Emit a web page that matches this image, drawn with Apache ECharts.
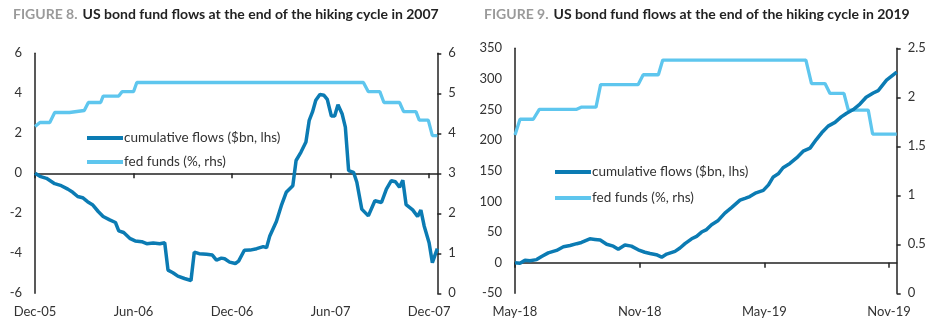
<!DOCTYPE html>
<html><head><meta charset="utf-8">
<script src="https://cdn.jsdelivr.net/npm/echarts@6/dist/echarts.min.js"></script>
<style>html,body{margin:0;padding:0;background:#fff}#c{width:935px;height:336px}</style>
</head><body><div id="c"></div>
<script>
// ---- Figure 8 (2005-2007) ----
const xTicks1 = ['Dec-05','Jun-06','Dec-06','Jun-07','Dec-07'];
const flow1Months = [0,0.3,0.7,1.2,1.6,2.0,2.3,2.6,2.9,3.2,3.5,3.85,4.15,4.55,4.9,5.1,5.4,5.8,6.1,6.5,6.8,7.2,7.6,7.9,8.1,8.4,8.7,9.1,9.5,9.7,10.0,10.45,10.8,11.05,11.35,11.55,11.85,12.2,12.4,12.75,13.1,13.5,13.9,14.1,14.3,14.7,15.0,15.3,15.7,15.9,16.2,16.5,16.7,16.9,17.1,17.35,17.6,17.8,18.05,18.25,18.45,18.7,18.9,19.1,19.4,19.6,19.9,20.3,20.7,21.1,21.4,21.7,21.95,22.2,22.4,22.6,23.0,23.3,23.5,23.7,24.0,24.2,24.5];
const flow1Values = [0,-0.15,-0.25,-0.52,-0.62,-0.79,-0.95,-1.16,-1.22,-1.42,-1.57,-1.91,-2.16,-2.33,-2.46,-2.88,-2.96,-3.27,-3.38,-3.42,-3.52,-3.48,-3.52,-3.47,-4.84,-4.97,-5.14,-5.26,-5.36,-3.94,-4.02,-4.05,-4.09,-4.34,-4.24,-4.27,-4.44,-4.51,-4.39,-3.85,-3.84,-3.77,-3.67,-3.72,-3.13,-2.41,-1.62,-0.95,-0.62,0.64,1.06,1.56,2.65,3.07,3.65,3.94,3.90,3.70,2.86,2.86,3.43,2.98,2.31,0.13,0.05,-0.45,-1.79,-2.13,-1.37,-1.46,-0.79,-0.37,-0.42,-0.70,-0.35,-1.57,-1.83,-2.16,-1.84,-2.63,-3.47,-4.47,-3.77];
const fed1Months = [0,0.3,0.9,1.2,2.1,2.2,3.0,3.25,4.0,4.15,5.1,5.3,6.0,6.2,20.0,20.3,21.0,21.25,22.2,22.45,23.2,23.4,23.95,24.2,24.5];
const fed1Values = [4.17,4.27,4.27,4.52,4.52,4.57,4.57,4.77,4.77,4.93,4.93,5.04,5.04,5.27,5.27,5.04,5.04,4.77,4.77,4.54,4.54,4.33,4.33,3.94,3.94];

// ---- Figure 9 (2018-2019) ----
const xTicks2 = ['May-18','Nov-18','May-19','Nov-19'];
const flow2Months = [0,0.24,0.48,0.72,1.04,1.28,1.6,2.0,2.33,2.65,2.97,3.2,3.6,3.85,4.1,4.41,4.73,4.97,5.29,5.6,5.93,6.25,6.5,6.8,7.06,7.3,7.7,7.94,8.18,8.5,8.74,8.98,9.22,9.46,9.78,10.1,10.42,10.83,11.07,11.3,11.6,11.95,12.2,12.43,12.67,12.9,13.23,13.55,13.87,14.2,14.5,14.76,15.07,15.4,15.7,15.96,16.28,16.6,16.9,17.24,17.48,17.88,18.37];
const flow2Values = [0,-1,4,3,5,10,16,20,26,28,31,33,39,38,37,30,27,22,29,27,21,17,15,13,9,14,18.5,24,31,39,43,50,54,62,69,81,90,102,105,108,114,118,127,140,145,155,162,171,182,187,201,212,223,229,238,244,250,259,270,277,281,298,311];
const fed2Months = [0,0.24,0.88,1.17,2.97,3.21,3.9,4.12,5.93,6.17,6.9,7.11,14.0,14.27,14.92,15.16,15.83,16.04,17.0,17.21,18.37];
const fed2Values = [1.615,1.776,1.776,1.877,1.877,1.90,1.90,2.13,2.13,2.23,2.23,2.38,2.38,2.14,2.14,2.04,2.04,1.87,1.87,1.625,1.625];

const titles = [
  ['FIGURE 8.', 'US bond fund flows at the end of the hiking cycle in 2007'],
  ['FIGURE 9.', 'US bond fund flows at the end of the hiking cycle in 2019']
];
const seriesNames = ['cumulative flows ($bn, lhs)', 'fed funds (%, rhs)'];

const FONT = 'Lato';
const DARK = '#0b7bb3';
const LIGHT = '#5ec6ee';
const TXT = '#333';
const AX = '#222';

function zip(a, b) { return a.map((v, i) => [v, b[i]]); }
function tickVals(n) { const r = []; for (let i = 0; i < n; i++) r.push(i * 6); return r; }

const chart = echarts.init(document.getElementById('c'), null, {renderer: 'canvas'});

function xAxesFor(gridIndex, max, labels, yIdx) {
  const vals = tickVals(labels.length);
  return [
    { gridIndex, type: 'value', min: 0, max, position: 'bottom',
      axisLine: { show: false, onZero: false }, axisTick: { show: false },
      splitLine: { show: false },
      axisLabel: { customValues: vals, margin: 12, color: TXT, fontFamily: FONT, fontSize: 13,
        formatter: v => labels[Math.round(v / 6)] || '' } },
    { gridIndex, type: 'value', min: 0, max, position: 'bottom',
      axisLine: { show: true, onZero: true, onZeroAxisIndex: yIdx, lineStyle: { color: AX, width: 1.5 } },
      axisTick: { show: true, customValues: vals, length: 5, lineStyle: { color: AX, width: 1.5 } },
      axisLabel: { show: false }, splitLine: { show: false } }
  ];
}

function yAxis(gridIndex, position, min, max, interval, ticks) {
  return { gridIndex, type: 'value', position, min, max, interval,
    axisLine: { show: true, onZero: false, lineStyle: { color: AX, width: 1.5 } },
    axisTick: { show: ticks, length: 4, lineStyle: { color: AX, width: 1.5 } },
    splitLine: { show: false },
    axisLabel: { margin: ticks ? 11 : 13, color: TXT, fontFamily: FONT, fontSize: 13 } };
}

const titleRich = {
  a: { color: '#9a9a9a', fontWeight: 'bold', fontFamily: FONT, fontSize: 14 },
  b: { color: '#222', fontWeight: 'bold', fontFamily: FONT, fontSize: 14 }
};

const option = {
  animation: false,
  backgroundColor: '#fff',
  title: [
    { text: '{a|' + titles[0][0] + '} {b|' + titles[0][1] + '}', left: 8, top: 0, textStyle: { rich: titleRich } },
    { text: '{a|' + titles[1][0] + '} {b|' + titles[1][1] + '}', left: 479, top: 0, textStyle: { rich: titleRich } }
  ],
  grid: [
    { left: 35, top: 53.3, width: 402.3, height: 240 },
    { left: 515, top: 48.3, width: 381.7, height: 245 }
  ],
  xAxis: [].concat(xAxesFor(0, 24.5, xTicks1, 0), xAxesFor(1, 18.37, xTicks2, 2)),
  yAxis: [
    yAxis(0, 'left', -6, 6, 2, false),
    yAxis(0, 'right', 0, 6, 1, true),
    yAxis(1, 'left', -50, 350, 50, false),
    yAxis(1, 'right', 0, 2.5, 0.5, true)
  ],
  series: [
    { name: seriesNames[1], type: 'line', xAxisIndex: 0, yAxisIndex: 1, data: zip(fed1Months, fed1Values),
      showSymbol: false, lineStyle: { color: LIGHT, width: 3.3 }, itemStyle: { color: LIGHT } },
    { name: seriesNames[0], type: 'line', xAxisIndex: 0, yAxisIndex: 0, data: zip(flow1Months, flow1Values),
      showSymbol: false, lineStyle: { color: DARK, width: 3.5 }, itemStyle: { color: DARK } },
    { name: seriesNames[1] + '\u200b', type: 'line', xAxisIndex: 2, yAxisIndex: 3, data: zip(fed2Months, fed2Values),
      showSymbol: false, lineStyle: { color: LIGHT, width: 3.3 }, itemStyle: { color: LIGHT } },
    { name: seriesNames[0] + '\u200b', type: 'line', xAxisIndex: 2, yAxisIndex: 2, data: zip(flow2Months, flow2Values),
      showSymbol: false, lineStyle: { color: DARK, width: 3.5 }, itemStyle: { color: DARK } }
  ]
};

const legendBase = {
  orient: 'vertical', icon: 'rect', itemWidth: 36, itemHeight: 4,
  textStyle: { color: TXT, fontFamily: FONT, fontSize: 13.5, lineHeight: 16, padding: [0,0,0,-4] },
  selectedMode: false
};
option.legend = [
  Object.assign({}, legendBase, { left: 82, top: 125, itemGap: 8, data: [seriesNames[0], seriesNames[1]] }),
  Object.assign({}, legendBase, { left: 550, top: 159, itemGap: 10, data: [seriesNames[0] + '\u200b', seriesNames[1] + '\u200b'] })
];

chart.setOption(option);
</script>
</body></html>
